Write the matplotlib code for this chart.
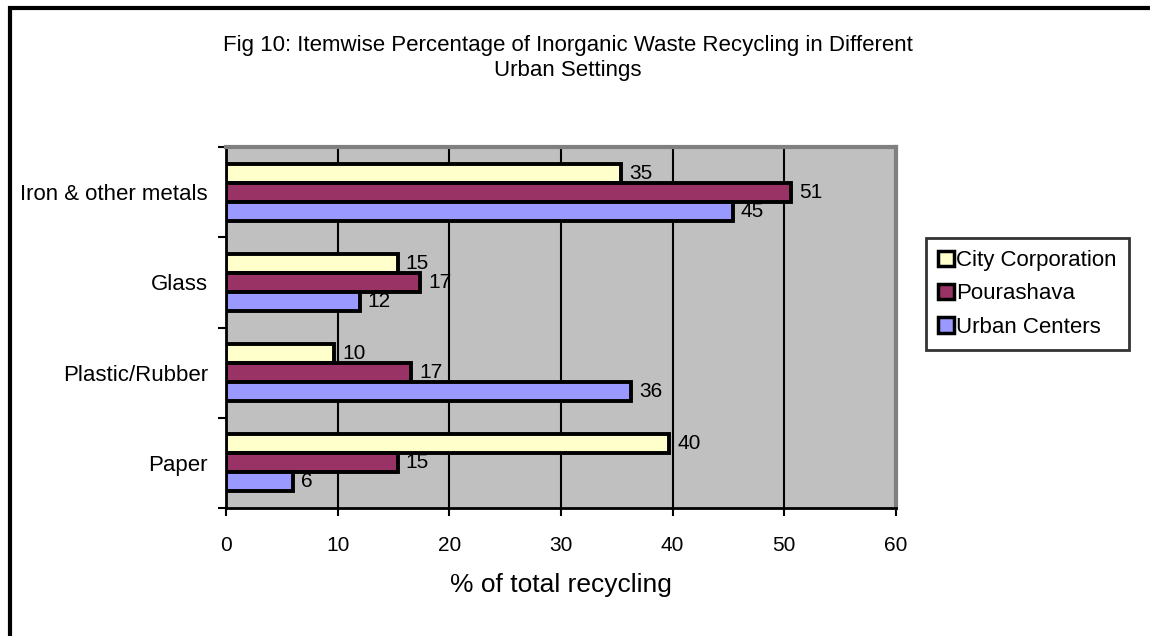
import numpy as np
import matplotlib.pyplot as plt
from matplotlib.patches import Rectangle

plt.rcParams['font.family'] = ['Liberation Sans', 'DejaVu Sans']

# data (bottom to top)
categories = ['Paper', 'Plastic/Rubber', 'Glass', 'Iron & other metals']
city_corp = [39.7, 9.7, 15.4, 35.4]
pourashava = [15.4, 16.6, 17.4, 50.6]
urban_centers = [6.0, 36.3, 12.0, 45.4]
series_names = ['City Corporation', 'Pourashava', 'Urban Centers']
colors = ['#FFFFCC', '#993366', '#9999FF']

fig = plt.figure(figsize=(11.5, 6.36), dpi=100)
ax = fig.add_axes([226 / 1150, 1 - 508 / 636, 670 / 1150, 361 / 636])
ax.set_facecolor('#C0C0C0')

y = np.arange(len(categories))
h = 0.21
offsets = [h, 0, -h]
for vals, name, col, off in zip([city_corp, pourashava, urban_centers], series_names, colors, offsets):
    bars = ax.barh(y + off, vals, height=h, color=col, edgecolor='black',
                   linewidth=2.8, label=name, zorder=3)
    for b, v in zip(bars, vals):
        ax.text(v + 0.7, b.get_y() + h / 2, '%.0f' % v, va='center', ha='left',
                fontsize=15, zorder=4)

ax.set_xlim(0, 60)
ax.set_ylim(-0.5, 3.5)
ax.set_xticks(np.arange(0, 61, 10))
ax.tick_params(axis='x', direction='out', length=6, width=1.5, labelsize=15, pad=14)
ax.set_yticks(y)
ax.set_yticklabels(categories)
ax.tick_params(axis='y', which='major', length=0, labelsize=16, pad=13)
ax.set_yticks(np.arange(-0.5, 3.6, 1), minor=True)
ax.tick_params(axis='y', which='minor', direction='out', length=6, width=1.5)
ax.xaxis.grid(True, color='black', linewidth=1.5, zorder=1)
ax.set_axisbelow(True)

for s in ['left', 'bottom']:
    ax.spines[s].set_color('black')
    ax.spines[s].set_linewidth(2)
for s in ['top', 'right']:
    ax.spines[s].set_color('#808080')
    ax.spines[s].set_linewidth(3)

ax.set_xlabel('% of total recycling', fontsize=19, labelpad=13)

fig.text(568 / 1150, 1 - 58 / 636,
         'Fig 10: Itemwise Percentage of Inorganic Waste Recycling in Different\nUrban Settings',
         ha='center', va='center', fontsize=16, linespacing=1.2)

leg = fig.legend(loc='upper left', bbox_to_anchor=(926 / 1150, 1 - 238 / 636),
                 fontsize=16, frameon=True, fancybox=False, handlelength=0.7,
                 handleheight=0.7, handletextpad=0.1, borderpad=0.55,
                 labelspacing=0.55, borderaxespad=0)
leg.get_frame().set_edgecolor('black')
leg.get_frame().set_linewidth(2)
for p in leg.get_patches():
    p.set_linewidth(2.5)

# outer frame, cut off on the right and bottom
fig.patches.append(Rectangle((10 / 1150, -0.1), 1.2, 1 - 8 / 636 + 0.1,
                             transform=fig.transFigure, fill=False,
                             edgecolor='black', linewidth=3))

fig.savefig('out.png', dpi=100)
